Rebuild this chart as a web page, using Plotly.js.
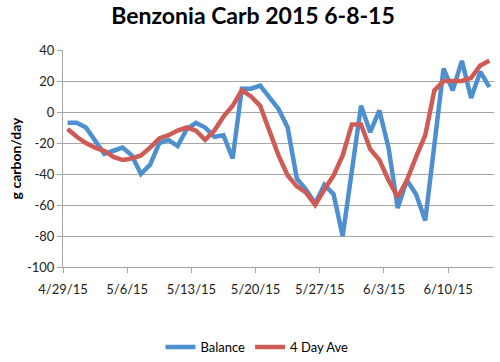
<!DOCTYPE html>
<html>
<head>
<meta charset="utf-8">
<script src="https://cdn.plot.ly/plotly-3.0.1.min.js"></script>
<style>html,body{margin:0;padding:0;background:#fff;}#chart{width:500px;height:362px;}</style>
</head>
<body>
<div id="chart"></div>
<script>
var dates = ['2015-04-29','2015-04-30','2015-05-01','2015-05-02','2015-05-03','2015-05-04','2015-05-05','2015-05-06','2015-05-07','2015-05-08',
 '2015-05-09','2015-05-10','2015-05-11','2015-05-12','2015-05-13','2015-05-14','2015-05-15','2015-05-16','2015-05-17','2015-05-18',
 '2015-05-19','2015-05-20','2015-05-21','2015-05-22','2015-05-23','2015-05-24','2015-05-25','2015-05-26','2015-05-27','2015-05-28',
 '2015-05-29','2015-05-30','2015-05-31','2015-06-01','2015-06-02','2015-06-03','2015-06-04','2015-06-05','2015-06-06','2015-06-07',
 '2015-06-08','2015-06-09','2015-06-10','2015-06-11','2015-06-12','2015-06-13','2015-06-14'];
var balance = [-7,-7,-10,-19,-27,-25,-23,-28,-40,-34,
 -20,-18,-22,-11,-7,-10,-16,-15,-30,15,
 15,17,9,2,-10,-43,-50,-59,-47,-53,
 -80,-37,4,-13,1,-23,-62,-44,-53,-70,
 -20,28,14,33,9,26,16];
var fourDayAve = [-11,-16,-20,-23,-25,-29,-31,-30,-28,-23,
 -17,-15,-12,-10,-12,-18,-12,-3,4,14,
 10,4,-12,-28,-41,-48,-52,-60,-50,-41,
 -28,-8,-8,-24,-31,-44,-55,-44,-29,-15,
 14,20,20,20,22,30,33];
var yTickVals = [40,20,0,-20,-40,-60,-80,-100];
var yTickText = ['40','20','0','-20','-40','-60','-80','-100'];
var seriesNames = ['Balance','4 Day Ave'];

// points sit in the middle of each day slot, as in the original date axis
var xMid = dates.map(function(d){ return d + ' 12:00'; });

var traces = [
  {x: xMid, y: balance, name: seriesNames[0], type: 'scatter', mode: 'lines',
   line: {color: '#4E8FCF', width: 4.5}},
  {x: xMid, y: fourDayAve, name: seriesNames[1], type: 'scatter', mode: 'lines',
   line: {color: '#CF5B56', width: 4.5}}
];

var layout = {
  width: 500, height: 362,
  margin: {l: 63, r: 6, t: 50, b: 95},
  paper_bgcolor: '#ffffff', plot_bgcolor: '#ffffff',
  font: {family: 'Lato, "Open Sans", sans-serif', size: 13, color: '#000'},
  title: {text: '<b>Benzonia Carb 2015 6-8-15</b>', font: {size: 23, color: '#000'},
          x: 0.506, xanchor: 'center', y: 0.955, yanchor: 'middle'},
  showlegend: true,
  legend: {orientation: 'h', x: 0.45, xanchor: 'center',
           yref: 'container', y: 0.083, yanchor: 'top',
           font: {size: 13}, itemwidth: 30, tracegroupgap: 0},
  xaxis: {
    type: 'date', range: ['2015-04-29', '2015-06-15'],
    tick0: '2015-04-29', dtick: 7*86400000, tickformat: '%-m/%-d/%y',
    showgrid: false, zeroline: false,
    showline: true, linecolor: '#a6a6a6', linewidth: 1,
    ticks: 'outside', ticklen: 5, tickcolor: '#a6a6a6',
    ticklabelstandoff: 5,
    tickfont: {size: 13, color: '#222'}
  },
  yaxis: {
    range: [-100, 40], tickvals: yTickVals, ticktext: yTickText,
    showgrid: true, gridcolor: '#a6a6a6', gridwidth: 1, zeroline: false,
    showline: true, linecolor: '#a6a6a6', linewidth: 1,
    ticks: 'outside', ticklen: 5, tickcolor: '#a6a6a6',
    tickfont: {size: 13, color: '#222'},
    title: {text: '<b>g carbon/day</b>', font: {size: 14, color: '#000'}, standoff: 2}
  }
};

Plotly.newPlot('chart', traces, layout, {displayModeBar: false, staticPlot: true});
</script>
</body>
</html>
